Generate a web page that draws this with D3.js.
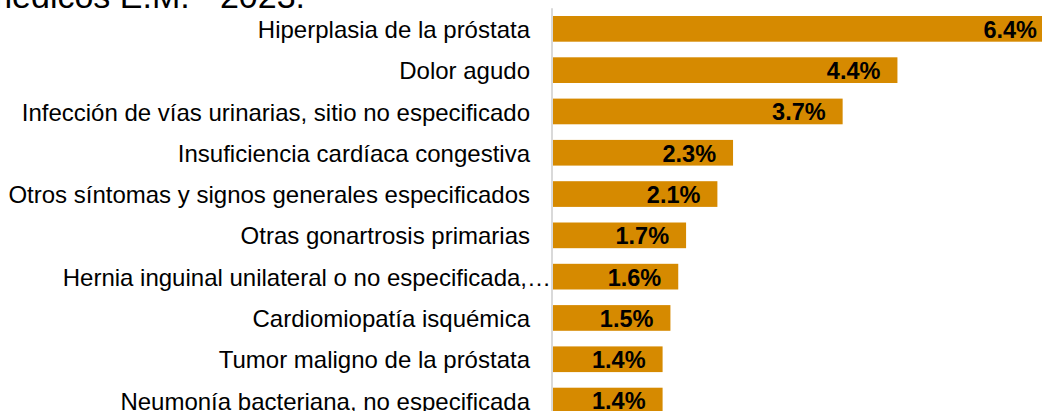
<!DOCTYPE html>
<html>
<head>
<meta charset="utf-8">
<script src="https://cdn.jsdelivr.net/npm/d3@7"></script>
<style>
  body { margin: 0; background: #fff; }
  svg { display: block; font-family: Arial, "Liberation Sans", sans-serif; }
</style>
</head>
<body>
<svg id="chart" width="1042" height="411"></svg>
<script>
'use strict';

// data (percent of total)
var categories = [
  'Hiperplasia de la próstata',
  'Dolor agudo',
  'Infección de vías urinarias, sitio no especificado',
  'Insuficiencia cardíaca congestiva',
  'Otros síntomas y signos generales especificados',
  'Otras gonartrosis primarias',
  'Hernia inguinal unilateral o no especificada,…',
  'Cardiomiopatía isquémica',
  'Tumor maligno de la próstata',
  'Neumonía bacteriana, no especificada'
];
var values = [6.4, 4.4, 3.7, 2.3, 2.1, 1.7, 1.6, 1.5, 1.4, 1.4];
var titleText = 'médicos E.M. - 2023.';

var width = 1042, height = 411,
  axisX = 553;

var svg = d3.select('#chart');

// title is cut by the top edge in the reference
svg.append('text')
  .attr('x', 305)
  .attr('y', 8)
  .attr('text-anchor', 'end')
  .attr('font-size', 34)
  .attr('fill', '#000')
  .text(titleText);

var x = d3.scaleLinear()
  .domain([0, 6.4])
  .range([axisX, axisX + 501]);

var y = d3.scaleBand()
  .domain(categories)
  .range([8.2, 421.2])
  .paddingInner(0.378)
  .paddingOuter(0.189);

var rows = categories.map(function(c, i) { return { cat: c, val: values[i] }; });

svg.selectAll('rect.bar')
  .data(rows)
  .enter().append('rect')
  .attr('class', 'bar')
  .attr('x', x(0))
  .attr('y', function(d) { return y(d.cat); })
  .attr('width', function(d) { return x(d.val) - x(0); })
  .attr('height', y.bandwidth())
  .attr('fill', '#d68a00');

// vertical axis line
svg.append('line')
  .attr('x1', axisX - 1).attr('x2', axisX - 1)
  .attr('y1', y.range()[0]).attr('y2', height)
  .attr('stroke', '#d9d9d9')
  .attr('stroke-width', 2);

// category labels
svg.selectAll('text.cat')
  .data(rows)
  .enter().append('text')
  .attr('class', 'cat')
  .attr('x', function(d) { return /…$/.test(d.cat) ? axisX - 2 : axisX - 23; })
  .attr('y', function(d) { return y(d.cat) + y.bandwidth() / 2; })
  .attr('dy', '0.38em')
  .attr('text-anchor', 'end')
  .attr('font-size', 24)
  .attr('fill', '#000')
  .text(function(d) { return d.cat; });

// value labels, inside end
svg.selectAll('text.val')
  .data(rows)
  .enter().append('text')
  .attr('class', 'val')
  .attr('x', function(d) { return x(d.val) - 17; })
  .attr('y', function(d) { return y(d.cat) + y.bandwidth() / 2; })
  .attr('dy', '0.38em')
  .attr('text-anchor', 'end')
  .attr('font-size', 23.5)
  .attr('font-weight', 'bold')
  .attr('fill', '#000')
  .text(function(d) { return d.val.toFixed(1) + '%'; });
</script>
</body>
</html>
